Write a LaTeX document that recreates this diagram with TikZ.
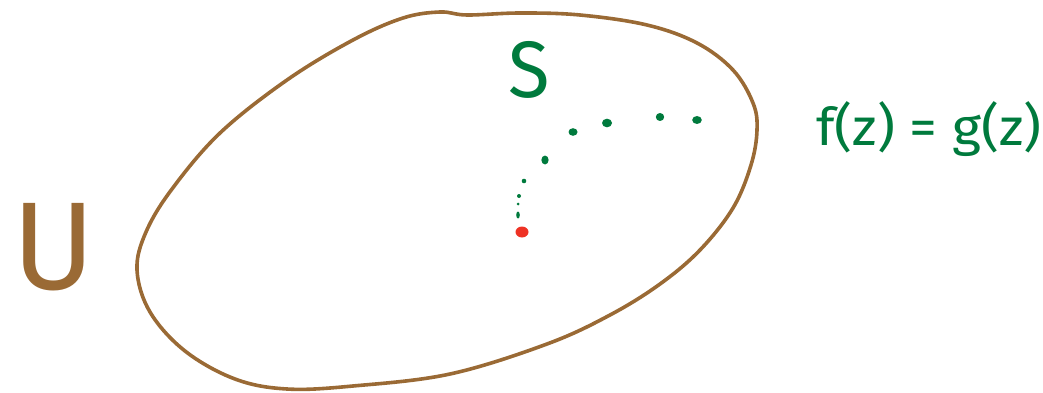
\documentclass[tikz,border=0pt]{standalone}
\usepackage{fontspec}
\setmainfont{Fira Sans}
\definecolor{sbrown}{HTML}{9A6A35}
\definecolor{sgreen}{HTML}{007A3D}
\definecolor{sred}{HTML}{EE3224}
\begin{document}
\begin{tikzpicture}[x=1pt,y=-1pt,
  region/.style={draw=sbrown,line width=3.6pt,line join=round},
  gdot/.style={fill=sgreen,draw=none},
  lbl/.style={inner sep=0pt,anchor=center}]
\useasboundingbox (0,0) rectangle (1043,393);
\draw[region] plot[smooth cycle,tension=0.6] coordinates{
 (440,12) (467,15) (520,13) (580,15) (647,25) (697,43) (733,70) (753,103)
 (757,130) (751,165) (733,208) (700,250) (660,284) (610,315) (547,344)
 (450,374) (353,386) (287,389) (235,379) (185,351) (150,312)
 (137,270) (146,232) (172,189) (220,133) (287,80) (353,40) (403,18)};
% dots
\fill[gdot] (697,120) ellipse (4.8 and 4);
\fill[gdot] (660,117) ellipse (4.2 and 4);
\fill[gdot] (607,123) ellipse (5 and 4.3);
\fill[gdot] (573,132) ellipse (4.5 and 3.8);
\fill[gdot] (545,160) ellipse (3.6 and 4.5);
\fill[gdot] (524,181) circle (2.3);
\fill[gdot] (519,196) circle (2);
\fill[gdot] (518,204) circle (1.5);
\fill[gdot] (518,215) ellipse (1.8 and 3.5);
\fill[sred] (522,232) ellipse (6.5 and 5.5);
% labels
\node[lbl,text=sbrown,font=\fontsize{125}{125}\selectfont,xscale=1.0] (U) at (54,247) {U};
\node[lbl,text=sgreen,font=\fontsize{80}{80}\selectfont,xscale=0.95] (S) at (529,70) {S};
\node[lbl,text=sgreen,font=\fontsize{52}{52}\selectfont,xscale=1.07] (eq) at (929,129) {f(z) = g(z)};
\end{tikzpicture}
\end{document}
